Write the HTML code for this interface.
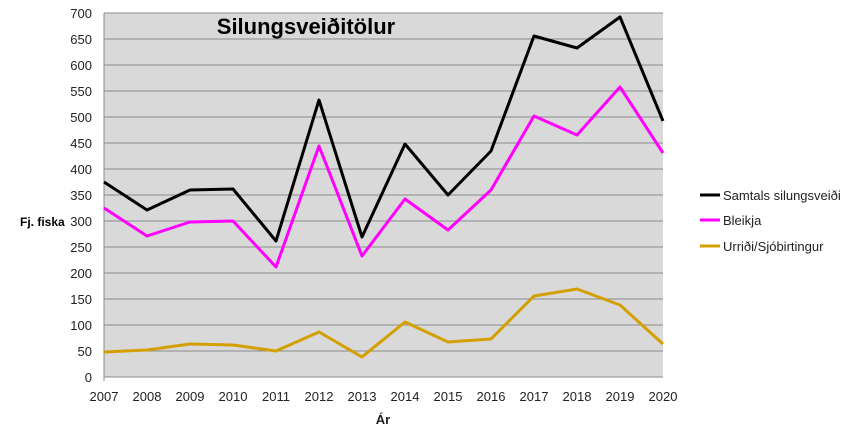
<!DOCTYPE html>
<html><head><meta charset="utf-8"><style>body{margin:0;background:#fff}</style></head><body>
<svg width="865" height="443" xmlns="http://www.w3.org/2000/svg" font-family="Liberation Sans, sans-serif">
<rect x="104" y="13" width="559" height="364" fill="#d9d9d9"/>
<g stroke="#8c8c8c" stroke-width="1">
<line x1="104" x2="663" y1="13" y2="13"/><line x1="104" x2="663" y1="39" y2="39"/><line x1="104" x2="663" y1="65" y2="65"/><line x1="104" x2="663" y1="91" y2="91"/><line x1="104" x2="663" y1="117" y2="117"/><line x1="104" x2="663" y1="143" y2="143"/><line x1="104" x2="663" y1="169" y2="169"/><line x1="104" x2="663" y1="195" y2="195"/><line x1="104" x2="663" y1="221" y2="221"/><line x1="104" x2="663" y1="247" y2="247"/><line x1="104" x2="663" y1="273" y2="273"/><line x1="104" x2="663" y1="299" y2="299"/><line x1="104" x2="663" y1="325" y2="325"/><line x1="104" x2="663" y1="351" y2="351"/><line x1="104" x2="663" y1="377" y2="377"/>
<line x1="104" x2="104" y1="13" y2="381"/>
</g>
<g font-size="13" fill="#222" text-anchor="end">
<text x="92" y="18">700</text><text x="92" y="44">650</text><text x="92" y="70">600</text><text x="92" y="96">550</text><text x="92" y="122">500</text><text x="92" y="148">450</text><text x="92" y="174">400</text><text x="92" y="200">350</text><text x="92" y="226">300</text><text x="92" y="252">250</text><text x="92" y="278">200</text><text x="92" y="304">150</text><text x="92" y="330">100</text><text x="92" y="356">50</text><text x="92" y="382">0</text>
</g>
<g font-size="13" fill="#222" text-anchor="middle">
<text x="104" y="401">2007</text><text x="147" y="401">2008</text><text x="190" y="401">2009</text><text x="233" y="401">2010</text><text x="276" y="401">2011</text><text x="319" y="401">2012</text><text x="362" y="401">2013</text><text x="405" y="401">2014</text><text x="448" y="401">2015</text><text x="491" y="401">2016</text><text x="534" y="401">2017</text><text x="577" y="401">2018</text><text x="620" y="401">2019</text><text x="663" y="401">2020</text>
<text x="383" y="424" font-weight="bold">Ár</text>
</g>
<text x="20" y="226" font-size="12" font-weight="bold">Fj. fiska</text>
<text x="306" y="34" font-size="22" font-weight="bold" text-anchor="middle">Silungsveiðitölur</text>
<g fill="none" stroke-width="3" stroke-linejoin="round">
<polyline stroke="#000" points="104,182 147,210 190,190 233,189 276,241 319,100 362,237 405,144 448,195 491,151 534,36 577,48 620,17 663,121"/>
<polyline stroke="#ff00ff" points="104,208 147,236 190,222 233,221 276,267 319,146 362,256 405,199 448,230 491,190 534,116 577,135 620,87 663,153"/>
<polyline stroke="#d4a000" points="104,352 147,350 190,344 233,345 276,351 319,332 362,357 405,322 448,342 491,339 534,296 577,289 620,305 663,344"/>
</g>
<g stroke-width="3"><line x1="700" x2="720" y1="195" y2="195" stroke="#000"/><line x1="700" x2="720" y1="220" y2="220" stroke="#ff00ff"/><line x1="700" x2="720" y1="246" y2="246" stroke="#d4a000"/></g>
<g font-size="13" fill="#222"><text x="723" y="200">Samtals silungsveiði</text><text x="723" y="225">Bleikja</text><text x="723" y="251">Urriði/Sjóbirtingur</text></g>
</svg>
</body></html>
